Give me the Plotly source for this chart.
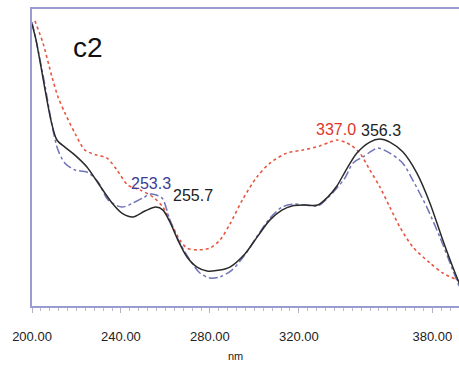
import numpy as np
import plotly.graph_objects as go

# UV-Vis spectra (wavelength in nm, absorbance in arbitrary units)
black_nm = [200.0, 201.8, 208.5, 211.2, 214.8, 219.3, 224.7, 229.7, 236.0, 240.4, 245.4,
            250.8, 255.7, 258.9, 262.0, 265.6, 269.7, 274.2, 278.7, 284.5, 289.0, 295.7,
            301.6, 307.0, 312.4, 316.9, 322.7, 328.5, 333.0, 337.1, 340.7, 346.1, 351.9,
            356.3, 360.9, 366.7, 373.0, 378.9, 384.7, 389.2, 392.4]
black_abs = [0.949, 0.896, 0.626, 0.559, 0.535, 0.508, 0.468, 0.414, 0.347, 0.313, 0.300,
             0.320, 0.333, 0.323, 0.283, 0.222, 0.165, 0.131, 0.118, 0.121, 0.131, 0.175,
             0.236, 0.290, 0.323, 0.337, 0.340, 0.340, 0.367, 0.404, 0.451, 0.515, 0.552,
             0.562, 0.552, 0.519, 0.448, 0.347, 0.222, 0.131, 0.071]

blue_nm = [200.0, 201.8, 205.8, 209.4, 211.7, 214.8, 219.3, 224.7, 229.7, 234.2, 240.4,
           245.4, 249.9, 253.3, 258.4, 262.0, 266.5, 271.0, 275.5, 280.0, 284.5, 289.9,
           295.7, 301.6, 307.0, 312.4, 316.9, 322.7, 328.5, 333.0, 337.1, 340.7, 344.3,
           348.8, 352.8, 355.5, 360.9, 366.7, 371.2, 377.5, 383.4, 389.2, 392.4]
blue_abs = [0.956, 0.896, 0.744, 0.593, 0.525, 0.481, 0.458, 0.451, 0.418, 0.357, 0.333,
            0.347, 0.364, 0.377, 0.364, 0.290, 0.212, 0.155, 0.111, 0.094, 0.098, 0.121,
            0.172, 0.239, 0.296, 0.333, 0.343, 0.340, 0.337, 0.364, 0.397, 0.431, 0.481,
            0.502, 0.522, 0.532, 0.515, 0.481, 0.424, 0.333, 0.232, 0.121, 0.061]

red_nm = [201.3, 204.9, 209.0, 211.7, 214.8, 219.3, 223.8, 229.2, 233.7, 238.2, 243.1,
          248.5, 254.4, 258.9, 263.4, 266.5, 269.7, 274.2, 280.0, 284.5, 289.0, 294.8,
          301.1, 307.0, 314.6, 321.8, 329.4, 333.9, 337.0, 340.7, 343.8, 347.4, 351.9,
          356.4, 360.9, 365.4, 371.2, 378.9, 384.7, 392.4]
red_abs = [0.960, 0.886, 0.771, 0.704, 0.650, 0.582, 0.525, 0.508, 0.498, 0.458, 0.407,
           0.391, 0.367, 0.333, 0.266, 0.222, 0.195, 0.189, 0.195, 0.222, 0.276, 0.360,
           0.434, 0.481, 0.515, 0.525, 0.539, 0.552, 0.559, 0.552, 0.539, 0.515, 0.458,
           0.401, 0.333, 0.266, 0.199, 0.145, 0.111, 0.084]

tick_vals = [200, 240, 280, 320, 380]
tick_text = ["200.00", "240.00", "280.00", "320.00", "380.00"]

# peak labels: (wavelength, series, colour, anchor, x shift, y shift)
peaks = [
    (253.3, "blue", "#3a3d96", "center", 0, 11),
    (255.7, "black", "#222222", "left", 15, 12),
    (337.0, "red", "#e0352b", "center", -1, 10),
    (356.3, "black", "#222222", "center", 1, 9),
]

series = {
    "black": (black_nm, black_abs),
    "blue": (blue_nm, blue_abs),
    "red": (red_nm, red_abs),
}

axis_col = "#9a9ccf"

fig = go.Figure()
fig.add_trace(go.Scatter(x=red_nm, y=red_abs, mode="lines",
                         line=dict(color="#e8553f", width=1.6, dash="dot", shape="spline",
                                   smoothing=0.8)))
fig.add_trace(go.Scatter(x=blue_nm, y=blue_abs, mode="lines",
                         line=dict(color="#6f74b8", width=1.5, dash="dashdot", shape="spline",
                                   smoothing=0.8)))
fig.add_trace(go.Scatter(x=black_nm, y=black_abs, mode="lines",
                         line=dict(color="#2a2a2a", width=1.5, shape="spline", smoothing=0.8)))

for wl, key, col, anchor, xs, ys in peaks:
    xs_arr, ys_arr = series[key]
    yv = float(np.interp(wl, xs_arr, ys_arr))
    fig.add_annotation(x=wl, y=yv, text=f"{wl:.1f}", showarrow=False,
                       xanchor=anchor, yanchor="middle", xshift=xs, yshift=ys,
                       font=dict(family="Liberation Sans, Arial", size=16, color=col))

fig.add_annotation(x=0.13, y=0.872, xref="paper", yref="y", text="c2", showarrow=False,
                   xanchor="center", yanchor="middle",
                   font=dict(family="Liberation Sans, Arial", size=28, color="#111111"))
fig.add_annotation(x=291.7, y=-0.168, xref="x", yref="paper", text="nm", showarrow=False,
                   xanchor="center", yanchor="middle",
                   font=dict(family="Liberation Sans, Arial", size=11, color="#222222"))

fig.update_layout(
    width=459, height=366,
    margin=dict(l=32, r=0, t=9, b=60),
    paper_bgcolor="white", plot_bgcolor="white",
    showlegend=False,
    xaxis=dict(range=[200, 392], tickvals=tick_vals, ticktext=tick_text,
               showgrid=False, zeroline=False, showline=True, linecolor=axis_col,
               linewidth=2, mirror=True, ticks="outside", ticklen=5, tickcolor="#b0b0c8",
               tickwidth=1, ticklabelstandoff=12,
               tickfont=dict(family="Liberation Sans, Arial", size=13, color="#222222"),
               minor=dict(dtick=4, tick0=200, ticks="outside", ticklen=3,
                          tickcolor="#b8b8cc", showgrid=False)),
    yaxis=dict(range=[0, 1], showticklabels=False, ticks="", showgrid=False,
               zeroline=False, showline=True, linecolor=axis_col, linewidth=2),
)

fig.write_html("out.html")
